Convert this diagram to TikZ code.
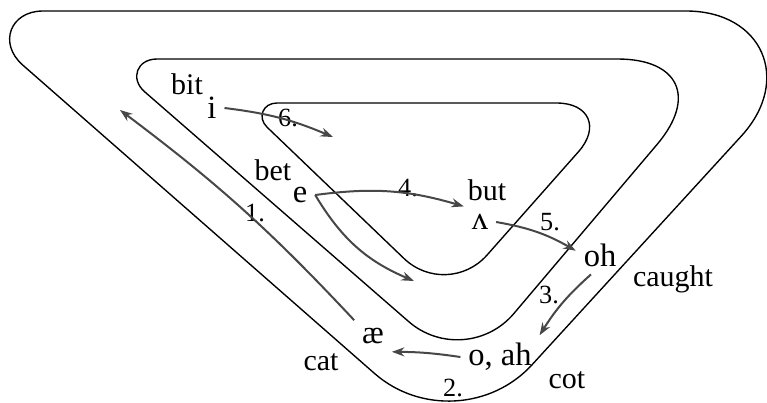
\documentclass[tikz,border=0pt]{standalone}
\usepackage{fontspec}
\setmainfont{Liberation Serif}
\usetikzlibrary{positioning,arrows.meta}

\tikzset{
  track/.style={draw=black, line width=0.55pt},
  move/.style={-{Stealth[length=5pt,width=3.6pt]}, draw=black!72, line width=0.8pt},
  vowel/.style={inner sep=3pt, font=\fontsize{13}{15}\selectfont},
  word/.style={inner sep=1pt, font=\fontsize{12}{14}\selectfont},
  num/.style={inner sep=1pt, font=\fontsize{10.5}{12}\selectfont}
}

\begin{document}
\begin{tikzpicture}[x=0.4pt, y=-0.4pt]
  \useasboundingbox (0,0) rectangle (767,402);

  % the three tracks, outer to inner
  \draw[track] (43,11) -- (686,11)
    .. controls (762.5,11) and (792.8,80) .. (741.1,136.3)
    -- (531.9,364.9)
    .. controls (491,409.5) and (420.2,413.4) .. (374.7,373.6)
    -- (22.7,65)
    .. controls (-2,43.4) and (10.2,11) .. (43,11) -- cycle;
  \draw[track] (157,59) -- (617.5,59)
    .. controls (679.1,59) and (696.9,97.4) .. (657.1,144.4)
    -- (513.8,313.6)
    .. controls (487.1,345.1) and (439.8,348.7) .. (408.7,321.6)
    -- (144.7,91.8)
    .. controls (129.6,78.7) and (137,59) .. (157,59) -- cycle;
  \draw[track] (276.9,103) -- (556.6,103)
    .. controls (589.1,103) and (600,127.4) .. (578.5,151.7)
    -- (487,255.1)
    .. controls (465.1,279.8) and (427.7,281.3) .. (403.9,258.4)
    -- (267.1,127.2)
    .. controls (257,117.5) and (262.9,103) .. (276.9,103) -- cycle;

  % vowels
  \node[vowel] (i) at (212,108) {i};
  \node[vowel] (e) at (300,195) {e};
  \node[vowel] (ae) at (373,336) {æ};
  \node[vowel] (uh) at (480,222) {ʌ};
  \node[vowel] (oh) at (600,255) {oh};
  \node[vowel] (oah) at (500,357) {o, ah};

  % words
  \node[word] (bit) at (187,84) {bit};
  \node[word] (bet) at (273,170) {bet};
  \node[word] (but) at (487,190) {but};
  \node[word] (caught) at (673,279) {caught};
  \node[word] (cot) at (567,380) {cot};
  \node[word] (cat) at (321,362) {cat};

  % steps
  \node[num] (s1) at (255,213) {1.};
  \node[num] (s2) at (453,388) {2.};
  \node[num] (s3) at (549,295) {3.};
  \node[num] (s4) at (408,188) {4.};
  \node[num] (s5) at (550,222) {5.};
  \node[num] (s6) at (288,118) {6.};

  \coordinate (end1) at (120,110);
  \coordinate (end4) at (414,281);
  \coordinate (end6) at (333,137);

  \draw[move] (ae.north west) to[bend right=5] (end1);
  \draw[move] (oah.west) to[bend right=4] (ae.south east);
  \draw[move] (oh.-115) to[bend right=8] (oah.north east);
  \draw[move] (e.east) to[bend left=12] (uh.north west);
  \draw[move] (e.east) to[bend right=18] (end4);
  \draw[move] (uh.east) to[bend left=10] (oh.170);
  \draw[move] (i.east) to[bend left=8] (end6);
\end{tikzpicture}
\end{document}
